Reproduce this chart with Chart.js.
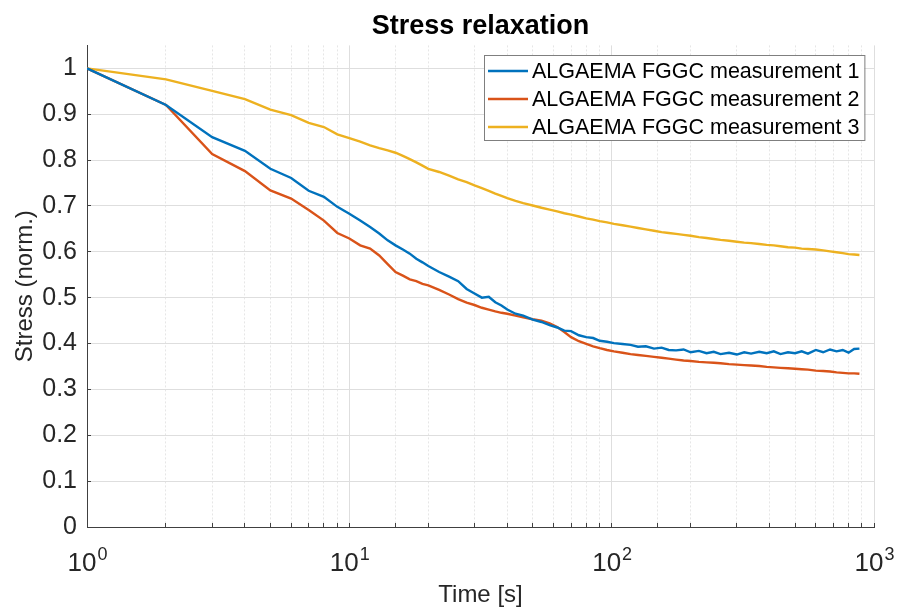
<!DOCTYPE html>
<html>
<head>
<meta charset="utf-8">
<script src="https://cdn.jsdelivr.net/npm/chart.js@4.4.1/dist/chart.umd.min.js"></script>
<style>
 html, body { margin: 0; padding: 0; background: #ffffff; }
 #wrap { width: 899px; height: 610px; }
</style>
</head>
<body>
<div id="wrap"><canvas id="relaxChart" width="899" height="610"></canvas></div>
<script>
// time samples [s]
var timeS = [
 1, 2, 3, 4, 5, 6, 7, 8, 9, 10, 11, 12, 13, 14, 15, 16, 17, 18, 19, 20,
 22, 24, 26, 28, 30, 32, 34, 36, 38, 40, 43, 46, 50, 54, 58, 62, 66, 70, 75, 80,
 85, 90, 96, 102, 110, 118, 126, 135, 145, 155, 165, 176, 188, 200, 215, 230, 245, 260, 280, 300,
 320, 340, 365, 390, 415, 440, 470, 500, 530, 560, 600, 640, 680, 720, 760, 800, 840, 880
];

var measurement1 = [
 1.0, 0.92, 0.85, 0.82, 0.781, 0.761, 0.733, 0.72, 0.698, 0.683, 0.668, 0.654, 0.64, 0.625, 0.614, 0.605, 0.596, 0.585, 0.577, 0.569,
 0.556, 0.546, 0.536, 0.519, 0.509, 0.500, 0.502, 0.490, 0.483, 0.474, 0.465, 0.461, 0.452, 0.447, 0.440, 0.435, 0.428, 0.427, 0.418, 0.414,
 0.412, 0.406, 0.404, 0.401, 0.399, 0.397, 0.393, 0.394, 0.389, 0.391, 0.386, 0.385, 0.387, 0.381, 0.384, 0.379, 0.382, 0.377, 0.380, 0.376,
 0.381, 0.378, 0.382, 0.379, 0.383, 0.377, 0.381, 0.379, 0.383, 0.378, 0.386, 0.381, 0.387, 0.383, 0.386, 0.380, 0.388, 0.389
];

var measurement2 = [
 1.0, 0.92, 0.813, 0.776, 0.734, 0.716, 0.691, 0.668, 0.641, 0.629, 0.614, 0.607, 0.592, 0.573, 0.556, 0.548, 0.540, 0.536, 0.530, 0.527,
 0.517, 0.507, 0.497, 0.489, 0.484, 0.478, 0.474, 0.470, 0.467, 0.465, 0.461, 0.457, 0.453, 0.450, 0.444, 0.436, 0.425, 0.414, 0.405, 0.399,
 0.394, 0.390, 0.386, 0.383, 0.380, 0.377, 0.375, 0.373, 0.371, 0.369, 0.367, 0.365, 0.363, 0.362, 0.360, 0.359, 0.358, 0.357, 0.355, 0.354,
 0.353, 0.352, 0.351, 0.349, 0.348, 0.347, 0.346, 0.345, 0.344, 0.343, 0.341, 0.340, 0.339, 0.337, 0.336, 0.335, 0.335, 0.334
];

var measurement3 = [
 1.0, 0.976, 0.951, 0.933, 0.910, 0.898, 0.881, 0.872, 0.856, 0.848, 0.840, 0.832, 0.826, 0.821, 0.816, 0.809, 0.802, 0.795, 0.788, 0.781,
 0.774, 0.766, 0.758, 0.752, 0.745, 0.739, 0.733, 0.727, 0.722, 0.717, 0.711, 0.706, 0.701, 0.696, 0.692, 0.688, 0.684, 0.681, 0.677, 0.673,
 0.670, 0.667, 0.664, 0.661, 0.658, 0.655, 0.652, 0.649, 0.646, 0.643, 0.641, 0.639, 0.637, 0.635, 0.632, 0.630, 0.628, 0.626, 0.624, 0.622,
 0.620, 0.619, 0.617, 0.615, 0.614, 0.612, 0.610, 0.609, 0.607, 0.606, 0.605, 0.603, 0.601, 0.599, 0.597, 0.595, 0.594, 0.593
];

var seriesNames = [
 "ALGAEMA FGGC measurement 1",
 "ALGAEMA FGGC measurement 2",
 "ALGAEMA FGGC measurement 3",
];
var seriesColors = ["#0072BD", "#D95319", "#EDB120"];

var yTickValues = [0, 0.1, 0.2, 0.3, 0.4, 0.5, 0.6, 0.7, 0.8, 0.9, 1];
var xDecades = [1, 10, 100, 1000];
var xDecadeExponents = ["0", "1", "2", "3"];

var fontFamily = "'Liberation Sans', Arial, Helvetica, sans-serif";
var axisColor = "#404040";
var labelColor = "#262626";

function toPoints(values) {
 return values.map(function (v, i) {
  return { x: timeS[i], y: v };
 });
}

function isDecade(v) {
 var l = Math.log10(v);
 return Math.abs(l - Math.round(l)) < 1e-9;
}

// 10^n labels with a raised exponent, like MATLAB draws them
var decadeLabels = {
 id: "decadeLabels",
 afterDraw: function (chart) {
  var ctx = chart.ctx;
  var xScale = chart.scales.x;
  var baseY = chart.chartArea.bottom + 44;
  ctx.save();
  ctx.fillStyle = labelColor;
  ctx.textBaseline = "alphabetic";
  ctx.textAlign = "left";
  xDecades.forEach(function (v, i) {
   ctx.font = "26px " + fontFamily;
   var wBase = ctx.measureText("10").width;
   ctx.font = "18px " + fontFamily;
   var wExp = ctx.measureText(xDecadeExponents[i]).width;
   var px = xScale.getPixelForValue(v);
   var left = px - (wBase + wExp) / 2;
   ctx.font = "26px " + fontFamily;
   ctx.fillText("10", left, baseY);
   ctx.font = "18px " + fontFamily;
   ctx.fillText(xDecadeExponents[i], left + wBase + 1, baseY - 11);
  });
  ctx.restore();
 },
};

// legend drawn inside the axes, top right like the MATLAB one
var insideLegend = {
 id: "insideLegend",
 afterDraw: function (chart) {
  var ctx = chart.ctx;
  var area = chart.chartArea;
  ctx.save();
  ctx.font = "21.5px " + fontFamily;
  var textW = 0;
  seriesNames.forEach(function (n) {
   textW = Math.max(textW, ctx.measureText(n).width);
  });
  var rowH = 28;
  var boxW = 4 + 40 + 4 + textW + 5;
  var boxH = rowH * seriesNames.length + 1;
  var x0 = Math.round(area.right - 10 - boxW);
  var y0 = Math.round(area.top + 10);
  ctx.fillStyle = "#ffffff";
  ctx.fillRect(x0, y0, boxW, boxH);
  ctx.strokeStyle = "#7f7f7f";
  ctx.lineWidth = 1;
  ctx.strokeRect(x0 + 0.5, y0 + 0.5, boxW, boxH);
  seriesNames.forEach(function (n, i) {
   var cy = y0 + 2 + rowH * i + rowH / 2;
   ctx.strokeStyle = seriesColors[i];
   ctx.lineWidth = 2.3;
   ctx.beginPath();
   ctx.moveTo(x0 + 4, cy);
   ctx.lineTo(x0 + 44, cy);
   ctx.stroke();
   ctx.fillStyle = "#000000";
   ctx.textBaseline = "middle";
   ctx.fillText(n, x0 + 48, cy + 1);
  });
  ctx.restore();
 },
};

var chartDiv = document.getElementById("relaxChart");

new Chart(chartDiv, {
 type: "line",
 data: {
  datasets: [
   { label: seriesNames[0], data: toPoints(measurement1), borderColor: seriesColors[0] },
   { label: seriesNames[1], data: toPoints(measurement2), borderColor: seriesColors[1] },
   { label: seriesNames[2], data: toPoints(measurement3), borderColor: seriesColors[2] },
  ],
 },
 options: {
  responsive: false,
  animation: false,
  layout: { padding: { left: 0, right: 25, top: 0, bottom: 0 } },
  elements: {
   point: { radius: 0 },
   line: { borderWidth: 2.4, tension: 0, fill: false },
  },
  plugins: {
   legend: { display: false },
   tooltip: { enabled: false },
   title: {
    display: true,
    fullSize: false,
    text: "Stress relaxation",
    color: "#000000",
    font: { family: fontFamily, size: 27, weight: "bold" },
    padding: { top: 10, bottom: 3 },
   },
  },
  scales: {
   x: {
    type: "logarithmic",
    min: 1,
    max: 1000,
    afterFit: function (scale) {
     scale.height = 83;
     scale.paddingLeft = 0;
     scale.paddingRight = 0;
    },
    border: {
     display: true,
     color: axisColor,
     width: 1,
     dash: function (ctx) {
      if (!ctx.tick) return [];
      return isDecade(ctx.tick.value) ? [] : [2, 2];
     },
    },
    grid: {
     color: function (ctx) {
      if (!ctx.tick) return "#dedede";
      return isDecade(ctx.tick.value) ? "#dedede" : "#e6e6e6";
     },
     lineWidth: 1,
     drawTicks: true,
     tickLength: -4,
     tickColor: axisColor,
     tickBorderDash: [],
    },
    ticks: {
     autoSkip: false,
     maxRotation: 0,
     padding: 20,
     color: labelColor,
     font: { family: fontFamily, size: 25 },
     callback: function () {
      return "";
     },
    },
    title: {
     display: true,
     text: "Time [s]",
     color: labelColor,
     font: { family: fontFamily, size: 24 },
     padding: { top: 4, bottom: 0 },
    },
   },
   y: {
    min: 0,
    max: 1.05,
    afterFit: function (scale) {
     scale.width = 87;
    },
    afterBuildTicks: function (scale) {
     scale.ticks = yTickValues.map(function (v) {
      return { value: v };
     });
    },
    border: { display: true, color: axisColor, width: 1 },
    grid: {
     color: "#dedede",
     lineWidth: 1,
     drawTicks: true,
     tickLength: -4,
     tickColor: axisColor,
    },
    ticks: {
     padding: 14,
     color: labelColor,
     font: { family: fontFamily, size: 25 },
     callback: function (value) {
      if (value === 0 || value === 1) return String(value);
      return value.toFixed(1);
     },
    },
    title: {
     display: true,
     text: "Stress (norm.)",
     color: labelColor,
     font: { family: fontFamily, size: 24 },
     padding: { top: 11, bottom: 0 },
    },
   },
  },
 },
 plugins: [decadeLabels, insideLegend],
});
</script>
</body>
</html>
